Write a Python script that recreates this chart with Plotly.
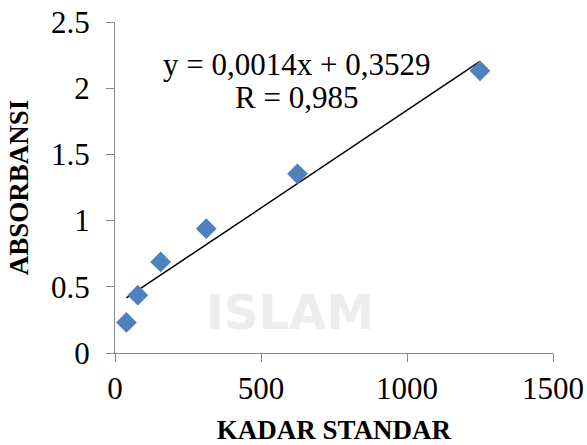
import numpy as np
import plotly.graph_objects as go

kadar_standar = [39.0625, 78.125, 156.25, 312.5, 625, 1250]
absorbansi = [0.231, 0.437, 0.688, 0.939, 1.353, 2.131]
eq_text = "y = 0,0014x + 0,3529"
r_text = "R = 0,985"
x_ticks = [0, 500, 1000, 1500]
y_ticks = [0, 0.5, 1, 1.5, 2, 2.5]
y_labels = ["0", "0.5", "1", "1.5", "2", "2.5"]

slope, intercept = np.polyfit(kadar_standar, absorbansi, 1)
x_fit = [min(kadar_standar), max(kadar_standar)]
y_fit = [slope * v + intercept for v in x_fit]

FONT = "Liberation Serif, Times New Roman, serif"
AX = "#868686"

fig = go.Figure()
fig.add_trace(go.Scatter(x=x_fit, y=y_fit, mode="lines",
                         line=dict(color="black", width=1.5), showlegend=False))
fig.add_trace(go.Scatter(x=kadar_standar, y=absorbansi, mode="markers",
                         marker=dict(symbol="diamond", size=16, color="#4F81BD"),
                         showlegend=False))

fig.add_annotation(text="<b>ISLAM</b>", xref="paper", yref="paper", x=0.40, y=0.125,
                   xanchor="center", yanchor="middle",
                   showarrow=False, font=dict(family="DejaVu Sans", size=48, color="#ededed"))
fig.add_annotation(text=eq_text, xref="paper", yref="paper", x=0.415, y=0.873,
                   xanchor="center", yanchor="middle",
                   showarrow=False, font=dict(family=FONT, size=31, color="black"))
fig.add_annotation(text=r_text, xref="paper", yref="paper", x=0.415, y=0.773,
                   xanchor="center", yanchor="middle",
                   showarrow=False, font=dict(family=FONT, size=31, color="black"))

fig.update_layout(
    width=587, height=445,
    margin=dict(l=115, r=34, t=22, b=92, autoexpand=False),
    plot_bgcolor="white", paper_bgcolor="white",
    font=dict(family=FONT, color="black"),
    xaxis=dict(range=[0, 1500], tickvals=x_ticks, ticks="outside", ticklen=8,
               tickcolor=AX, showline=True, linecolor=AX, linewidth=1, automargin=False,
               showgrid=False, zeroline=False, tickfont=dict(family=FONT, size=31, color="black"),
               title=dict(text="<b>KADAR STANDAR</b>", font=dict(family=FONT, size=27), standoff=22)),
    yaxis=dict(range=[0, 2.5], tickvals=y_ticks, ticktext=y_labels,
               ticks="outside", ticklen=8, automargin=False, ticklabelstandoff=10,
               tickcolor=AX, showline=True, linecolor=AX, linewidth=1,
               showgrid=False, zeroline=False, tickfont=dict(family=FONT, size=31, color="black"),
               title=dict(text="<b>ABSORBANSI</b>", font=dict(family=FONT, size=27), standoff=14)),
)

fig.write_html("out.html")
